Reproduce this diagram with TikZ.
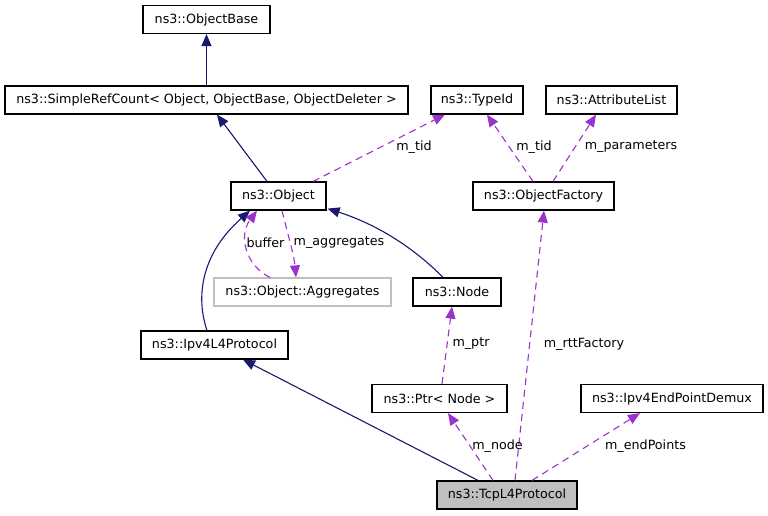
\documentclass[tikz,border=0pt]{standalone}
\usepackage{fontspec}
\setmainfont{DejaVu Sans}
\usetikzlibrary{arrows.meta,calc}
\definecolor{edgenavy}{HTML}{191970}
\definecolor{edgepurple}{HTML}{9A32CD}
\definecolor{boxgray}{HTML}{BFBFBF}
\begin{document}
\begin{tikzpicture}[x=1pt,y=-1pt,
  cls/.style={draw=black,line width=1.2pt,fill=white,minimum height=28pt,inner sep=0pt,font=\fontsize{12.7}{15}\selectfont},
  ghost/.style={cls,draw=boxgray},
  focus/.style={cls,fill=boxgray},
  inh/.style={draw=edgenavy,line width=1.1pt,-{Triangle[length=12pt,width=10pt,fill=edgenavy]}},
  use/.style={draw=edgepurple,line width=1.1pt,dash pattern=on 7pt off 5pt,-{Triangle[length=12pt,width=10pt,fill=edgepurple]}},
  lbl/.style={font=\fontsize{12.7}{15}\selectfont,inner sep=0pt}]
\useasboundingbox (0,0) rectangle (768,515);
\fill[white] (0,0) rectangle (768,515);
% nodes
\node[cls,minimum width=127pt] (ob) at (206.5,19.5) {ns3::ObjectBase};
\node[cls,minimum width=403pt] (src) at (206.5,100) {ns3::SimpleRefCount< Object, ObjectBase, ObjectDeleter >};
\node[cls,minimum width=95pt] (obj) at (278.5,196) {ns3::Object};
\node[cls,minimum width=92pt] (tid) at (477,100) {ns3::TypeId};
\node[cls,minimum width=131pt] (al) at (611.5,100) {ns3::AttributeList};
\node[cls,minimum width=141pt] (of) at (543.5,196) {ns3::ObjectFactory};
\node[ghost,minimum width=177pt] (agg) at (302.5,292) {ns3::Object::Aggregates};
\node[cls,minimum width=88pt] (nd) at (457,292) {ns3::Node};
\node[cls,minimum width=147pt] (ip) at (214.5,345) {ns3::Ipv4L4Protocol};
\node[cls,minimum width=135pt] (ptr) at (439.5,398.5) {ns3::Ptr< Node >};
\node[cls,minimum width=182pt] (dmx) at (672,398.5) {ns3::Ipv4EndPointDemux};
\node[focus,minimum width=140pt] (tcp) at (507,495) {ns3::TcpL4Protocol};
% inheritance
\draw[inh] (src.north) -- (ob.south);
\draw[inh] ($(obj.north)+(-11.5,0)$) -- ($(src.south)+(10.5,0)$);
\draw[inh] ($(ip.north)+(-7.5,0)$) .. controls (196,298) and (200,255) .. ($(obj.south)+(-28.5,0)$);
\draw[inh] ($(nd.north)+(-14,0)$) .. controls (418,252) and (382,226) .. ($(obj.south east)+(1,-2)$);
\draw[inh] ($(tcp.north)+(-29,0)$) -- ($(ip.south)+(28.5,0)$);
% usage
\draw[use] ($(obj.north)+(34.5,0)$) -- ($(tid.south)+(-32,0)$);
\draw[use] ($(of.north)+(-10.5,0)$) -- ($(tid.south)+(10,0)$);
\draw[use] ($(of.north)+(9.5,0)$) -- ($(al.south)+(-15.5,0)$);
\draw[use] ($(agg.north)+(-32.5,0)$) .. controls (246,266) and (238,236) .. ($(obj.south)+(-21.5,0)$);
\draw[use] ($(obj.south)+(3.5,0)$) .. controls (288,235) and (294,255) .. ($(agg.north)+(-6.5,0)$);
\draw[use] ($(ptr.north)+(2.5,0)$) -- ($(nd.south)+(-5,0)$);
\draw[use] ($(tcp.north)+(8,0)$) -- ($(of.south)+(0.5,0)$);
\draw[use] ($(tcp.north)+(-14,0)$) -- ($(ptr.south)+(8.5,0)$);
\draw[use] ($(tcp.north)+(25,0)$) -- ($(dmx.south)+(-32,0)$);
% labels
\node[lbl] (l1) at (414,147) {m\_tid};
\node[lbl] (l2) at (534,147) {m\_tid};
\node[lbl] (l3) at (631,147) {m\_parameters};
\node[lbl] (l4) at (265.5,243) {buffer};
\node[lbl] (l5) at (339,243) {m\_aggregates};
\node[lbl] (l6) at (471,344) {m\_ptr};
\node[lbl] (l7) at (584,344) {m\_rttFactory};
\node[lbl] (l8) at (497.5,446) {m\_node};
\node[lbl] (l9) at (645.5,446) {m\_endPoints};
\end{tikzpicture}
\end{document}
